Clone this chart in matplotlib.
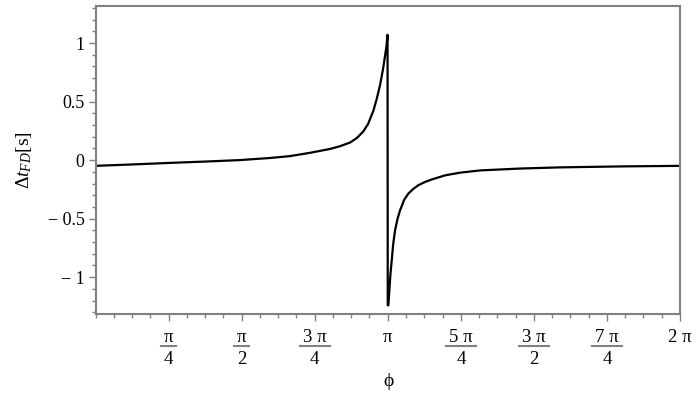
import numpy as np
import matplotlib
matplotlib.use('Agg')
import matplotlib.pyplot as plt
from matplotlib.ticker import MultipleLocator
from matplotlib.transforms import blended_transform_factory
from matplotlib.lines import Line2D

plt.rcParams['font.family'] = ['Liberation Serif', 'DejaVu Serif']
plt.rcParams['mathtext.fontset'] = 'custom'
plt.rcParams['mathtext.rm'] = 'Liberation Serif'
plt.rcParams['mathtext.it'] = 'Liberation Serif:italic'

# phi in units of pi
phi_over_pi = [0.0, 0.117, 0.2534, 0.39, 0.4935, 0.597, 0.665, 0.7335, 0.802,
               0.836, 0.871, 0.895, 0.9163, 0.933, 0.9506, 0.962, 0.9736, 0.984,
               0.9907, 0.996, 0.9993,
               1.0, 1.0021, 1.009, 1.0137, 1.0185, 1.025, 1.0336, 1.042, 1.056,
               1.0707, 1.088, 1.105, 1.128, 1.151, 1.1965, 1.248, 1.3165, 1.4537,
               1.591, 1.797, 2.0]
dt_fd = [-0.049, -0.038, -0.024, -0.011, 0.0, 0.018, 0.034, 0.062, 0.095,
         0.118, 0.150, 0.19, 0.245, 0.31, 0.42, 0.52, 0.64, 0.78,
         0.89, 0.98, 1.07,
         -1.24, -1.24, -0.98, -0.855, -0.72, -0.60, -0.50, -0.43, -0.34,
         -0.285, -0.245, -0.214, -0.186, -0.165, -0.13, -0.107, -0.088, -0.072,
         -0.062, -0.054, -0.049]

xtick_pos = [0.25, 0.5, 0.75, 1.0, 1.25, 1.5, 1.75, 2.0]
xtick_num = ['\u03c0', '\u03c0', '3 \u03c0', '\u03c0', '5 \u03c0', '3 \u03c0', '7 \u03c0', '2 \u03c0']
xtick_den = ['4', '2', '4', '', '4', '2', '4', '']
ytick_pos = [-1, -0.5, 0, 0.5, 1]
ytick_labels = ['\u2212 1', '\u2212 0.5', '0', '0.5', '1']

fig = plt.figure(figsize=(7, 4), dpi=100)
ax = fig.add_axes([95.5 / 700, 1 - 313.5 / 400, (680 - 95.5) / 700, (313.5 - 6) / 400])

x = np.array(phi_over_pi) * np.pi
ax.plot(x, dt_fd, color='black', lw=1.6)

ax.set_xlim(0, 2 * np.pi)
ax.set_ylim(-1.31, 1.316)

ax.set_xticks(np.array(xtick_pos) * np.pi)
ax.set_xticklabels([''] * len(xtick_pos))
ax.xaxis.set_minor_locator(MultipleLocator(np.pi / 16))
ax.set_yticks(ytick_pos)
ax.set_yticklabels(ytick_labels, fontsize=13)
ax.yaxis.set_minor_locator(MultipleLocator(0.1))

for s in ax.spines.values():
    s.set_color('#808080')
    s.set_linewidth(1.5)
ax.tick_params(which='major', direction='out', length=5, width=1, color='#808080', pad=3)
ax.tick_params(which='minor', direction='out', length=3, width=1, color='#808080')

# stacked fraction tick labels (Maple style)
tr = blended_transform_factory(ax.transData, fig.transFigure)
y_num = 1 - 337 / 400
y_bar = 1 - 346 / 400
y_den = 1 - 359 / 400
fig.canvas.draw()
renderer = fig.canvas.get_renderer()
for pos, num, den in zip(xtick_pos, xtick_num, xtick_den):
    xp = pos * np.pi
    t = ax.text(xp, y_num, num, transform=tr, ha='center', va='center', fontsize=13.5)
    if den:
        ax.text(xp, y_den, den, transform=tr, ha='center', va='center', fontsize=13.5)
        w = t.get_window_extent(renderer).width + 6
        xc = ax.transData.transform((xp, 0))[0]
        x0 = (xc - w / 2) / fig.bbox.width
        x1 = (xc + w / 2) / fig.bbox.width
        fig.add_artist(Line2D([x0, x1], [y_bar, y_bar], transform=fig.transFigure,
                              color='#808080', lw=1.5))

fig.text(388 / 700, 1 - 382 / 400, '\u03d5', ha='center', va='center', fontsize=14)
ax.set_ylabel(r'$\mathit{\Delta t}_{\mathit{FD}}\mathrm{[s]}$', fontsize=14, labelpad=10)

fig.savefig('out.png', dpi=100)
